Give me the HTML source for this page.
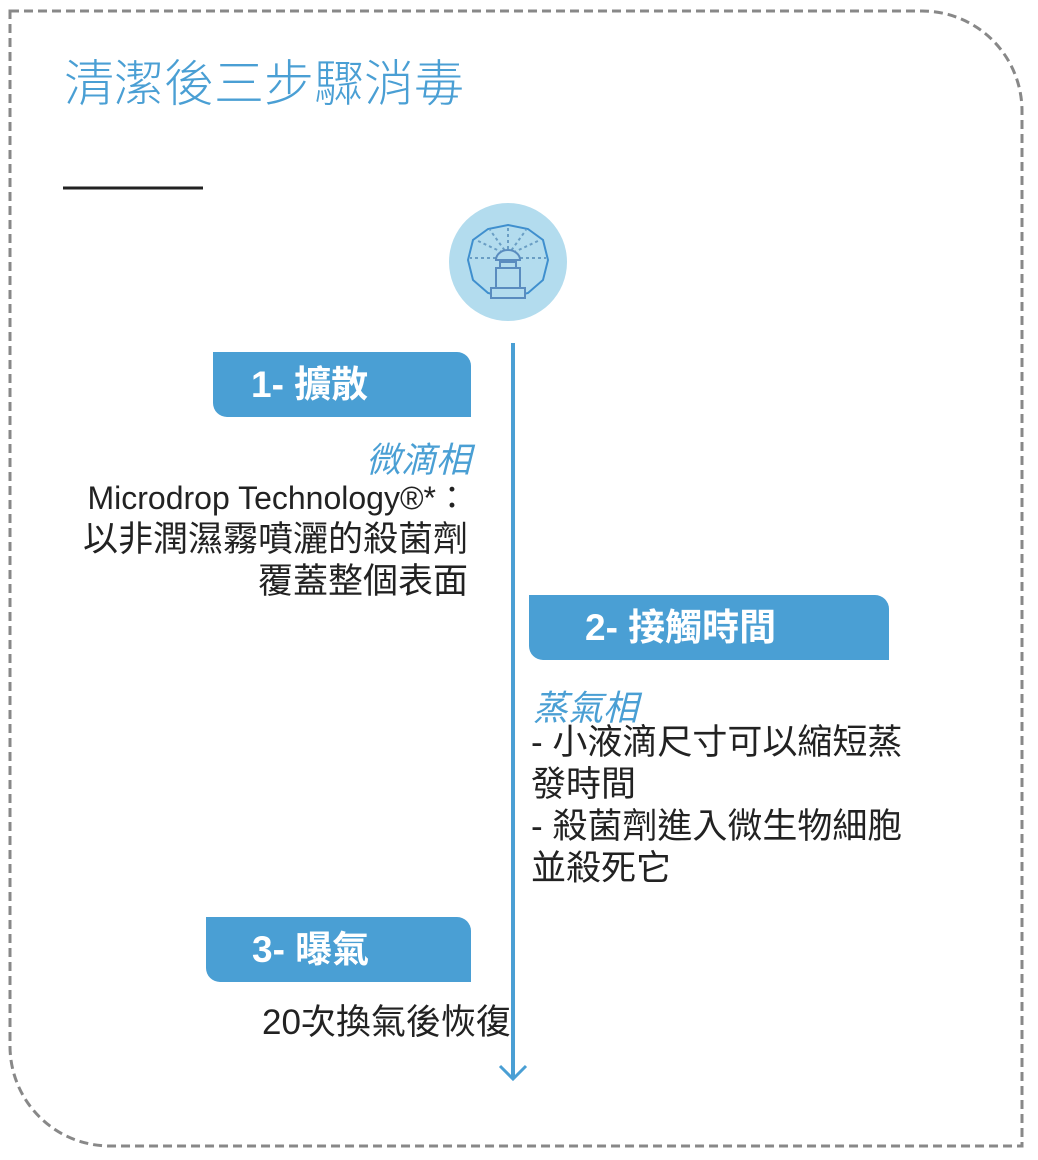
<!DOCTYPE html>
<html><head><meta charset="utf-8"><style>
body{margin:0;width:1038px;height:1160px;background:#fff;position:relative;font-family:"Liberation Sans","Noto Sans CJK TC",sans-serif;overflow:hidden}
.a{position:absolute;white-space:nowrap}
.box{position:absolute;background:#4a9fd4;color:#fff;font-weight:bold;font-size:37px;border-radius:0 14px 0 14px;box-sizing:border-box;line-height:65px;height:65px}
.it{color:#4a9fd4;font-style:italic;font-size:35px}
.t{color:#222;font-size:35px;line-height:42px}
</style></head><body>
<svg class="a" style="left:0;top:0" width="1038" height="1160">
<path d="M10 11 H922 A100 100 0 0 1 1022 111 V1146 H110 A100 100 0 0 1 10 1046 Z" fill="none" stroke="#888" stroke-width="3" stroke-dasharray="9,5"/>
<line x1="63" y1="188" x2="203" y2="188" stroke="#222" stroke-width="3"/>
<line x1="513" y1="343" x2="513" y2="1078" stroke="#4a9fd4" stroke-width="4"/>
<polyline points="500,1066 513,1079 526,1066" fill="none" stroke="#4a9fd4" stroke-width="3"/>
<circle cx="508" cy="262" r="59" fill="#b3dcee"/>
<polygon points="508,225 528,229 543,240 548,260 543,280 528,293 508,298 488,293 473,280 468,260 473,240 488,229" fill="none" stroke="#3f8fce" stroke-width="2"/>
<g stroke="#6a9ec4" stroke-width="2" stroke-dasharray="3,3">
<line x1="508" y1="255" x2="508" y2="226"/><line x1="508" y1="255" x2="490" y2="230"/><line x1="508" y1="255" x2="526" y2="230"/>
<line x1="508" y1="255" x2="476" y2="240"/><line x1="508" y1="255" x2="540" y2="240"/><line x1="508" y1="258" x2="470" y2="258"/><line x1="508" y1="258" x2="546" y2="258"/>
</g>
<g fill="#b3dcee" stroke="#5a8cbf" stroke-width="2">
<path d="M496 260 A12 10 0 0 1 520 260 Z"/>
<rect x="500" y="262" width="16" height="6"/>
<rect x="496" y="268" width="24" height="20"/>
<rect x="491" y="288" width="34" height="10"/>
</g>
</svg>
<div class="a" style="left:64px;top:44px;font-size:50px;color:#4a9fd4;font-family:'Noto Sans CJK TC',sans-serif;font-weight:300">清潔後三步驟消毒</div>
<div class="box" style="left:213px;top:352px;width:258px;padding-left:38px">1- 擴散</div>
<div class="a it" style="right:567px;top:432px">微滴相</div>
<div class="a t" style="right:570px;top:477px;text-align:right"><span style="font-size:32px">Microdrop Technology®*：</span><br>以非潤濕霧噴灑的殺菌劑<br>覆蓋整個表面</div>
<div class="box" style="left:529px;top:595px;width:360px;padding-left:56px">2- 接觸時間</div>
<div class="a it" style="left:533px;top:680px">蒸氣相</div>
<div class="a t" style="left:531px;top:722px">- 小液滴尺寸可以縮短蒸<br>發時間<br>- 殺菌劑進入微生物細胞<br>並殺死它</div>
<div class="box" style="left:206px;top:917px;width:265px;padding-left:46px">3- 曝氣</div>
<div class="a t" style="left:262px;top:1002px">20次換氣後恢復</div>
</body></html>
